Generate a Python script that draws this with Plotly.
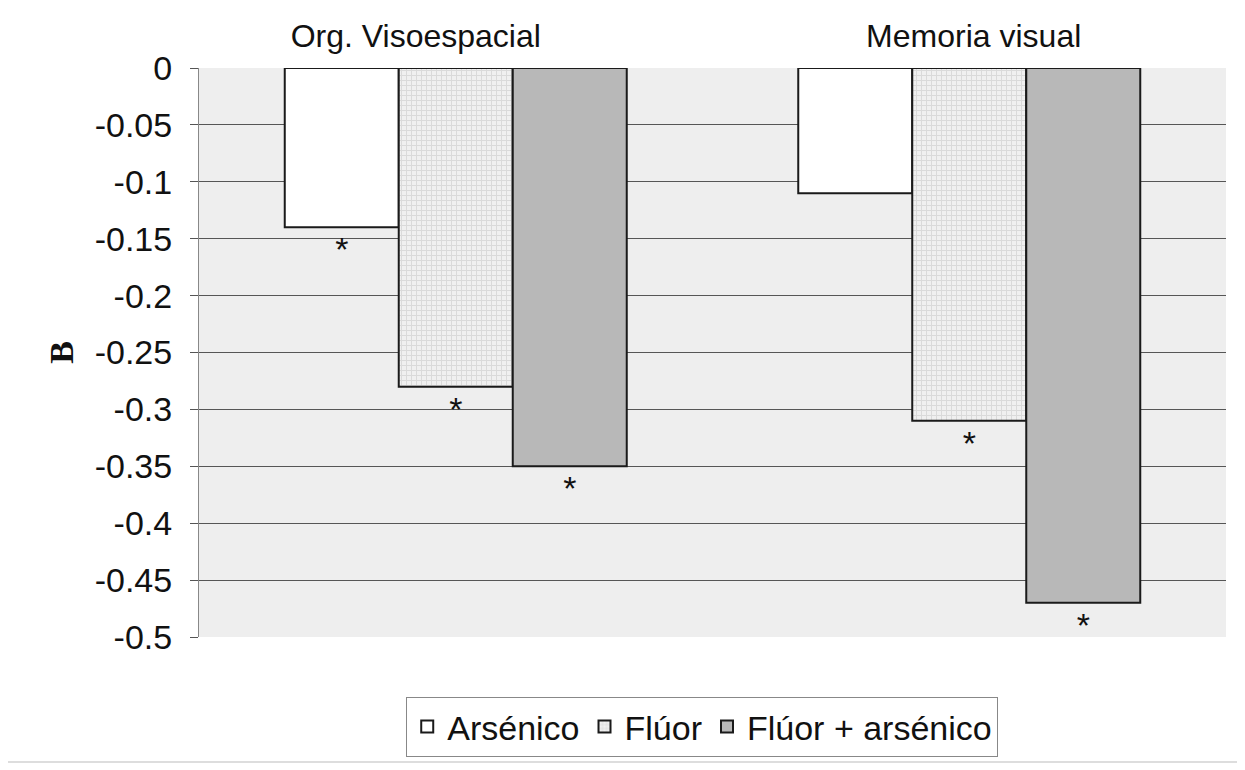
import plotly.graph_objects as go

categories = ["Org. Visoespacial", "Memoria visual"]
category_tick_labels = ["Org. Visoespacial" + "\u00a0" * 9, "\u00a0" + "Memoria visual"]
series_names = ["Arsénico", "Flúor", "Flúor + arsénico"]
arsenico = [-0.14, -0.11]
fluor = [-0.28, -0.31]
fluor_arsenico = [-0.35, -0.47]
sig_arsenico = ["*", ""]
sig_fluor = ["*", "*"]
sig_fluor_arsenico = ["*", "*"]
y_ticks = [0, -0.05, -0.1, -0.15, -0.2, -0.25, -0.3, -0.35, -0.4, -0.45, -0.5]
y_tick_labels = ["0", "-0.05", "-0.1", "-0.15", "-0.2", "-0.25", "-0.3", "-0.35", "-0.4", "-0.45", "-0.5"]

font_main = "Liberation Sans, Arial, sans-serif"

fig = go.Figure()
fig.add_trace(go.Bar(
    name=series_names[0], x=categories, y=arsenico,
    text=sig_arsenico, textposition="outside", cliponaxis=False,
    textfont=dict(size=34, color="#111", family=font_main),
    marker=dict(color="#ffffff", line=dict(color="#1a1a1a", width=2)),
))
fig.add_trace(go.Bar(
    name=series_names[1], x=categories, y=fluor,
    text=sig_fluor, textposition="outside", cliponaxis=False,
    textfont=dict(size=34, color="#111", family=font_main),
    marker=dict(color="#e4e4e4", line=dict(color="#1a1a1a", width=2),
                pattern=dict(shape="+", bgcolor="#f0f0f0", fgcolor="#c4c4c4", size=5, solidity=0.35)),
))
fig.add_trace(go.Bar(
    name=series_names[2], x=categories, y=fluor_arsenico,
    text=sig_fluor_arsenico, textposition="outside", cliponaxis=False,
    textfont=dict(size=34, color="#111", family=font_main),
    marker=dict(color="#b8b8b8", line=dict(color="#1a1a1a", width=2)),
))

fig.update_layout(
    width=1245, height=770,
    margin=dict(l=191, r=27, t=60, b=141),
    paper_bgcolor="#ffffff",
    plot_bgcolor="#eeeeee",
    barmode="group", bargap=0.334, bargroupgap=0,
    font=dict(family=font_main, color="#111"),
    showlegend=True,
    legend=dict(
        orientation="h", x=0.49, xanchor="center", y=-0.158, yanchor="middle",
        bordercolor="#888888", borderwidth=1, bgcolor="#ffffff",
        font=dict(size=34, family=font_main, color="#111"),
        traceorder="normal",
    ),
    xaxis=dict(
        side="top", showgrid=False, ticks="", showline=False, automargin=False,
        tickmode="array", tickvals=categories, ticktext=category_tick_labels,
        ticklabelstandoff=14,
        tickfont=dict(size=32, family=font_main, color="#111"),
    ),
    yaxis=dict(
        range=[-0.5, 0], tickvals=y_ticks, ticktext=y_tick_labels,
        showgrid=True, gridcolor="#555555", gridwidth=1,
        ticks="outside", ticklen=8, tickcolor="#555555",
        showline=True, linecolor="#888888", linewidth=1,
        zeroline=False, automargin=False,
        ticklabelstandoff=11,
        tickfont=dict(size=34, family=font_main, color="#111"),
        title=dict(text="<b>B</b>", font=dict(size=34, family="Liberation Serif, Times New Roman, serif", color="#111"),
                   standoff=10),
    ),
    shapes=[dict(type="rect", xref="paper", yref="paper",
                 x0=-0.187, x1=1.0117, y0=-0.2197, y1=1.107,
                 line=dict(color="#bbbbbb", width=1), fillcolor="rgba(0,0,0,0)", layer="below")],
)

fig.write_html("out.html")
